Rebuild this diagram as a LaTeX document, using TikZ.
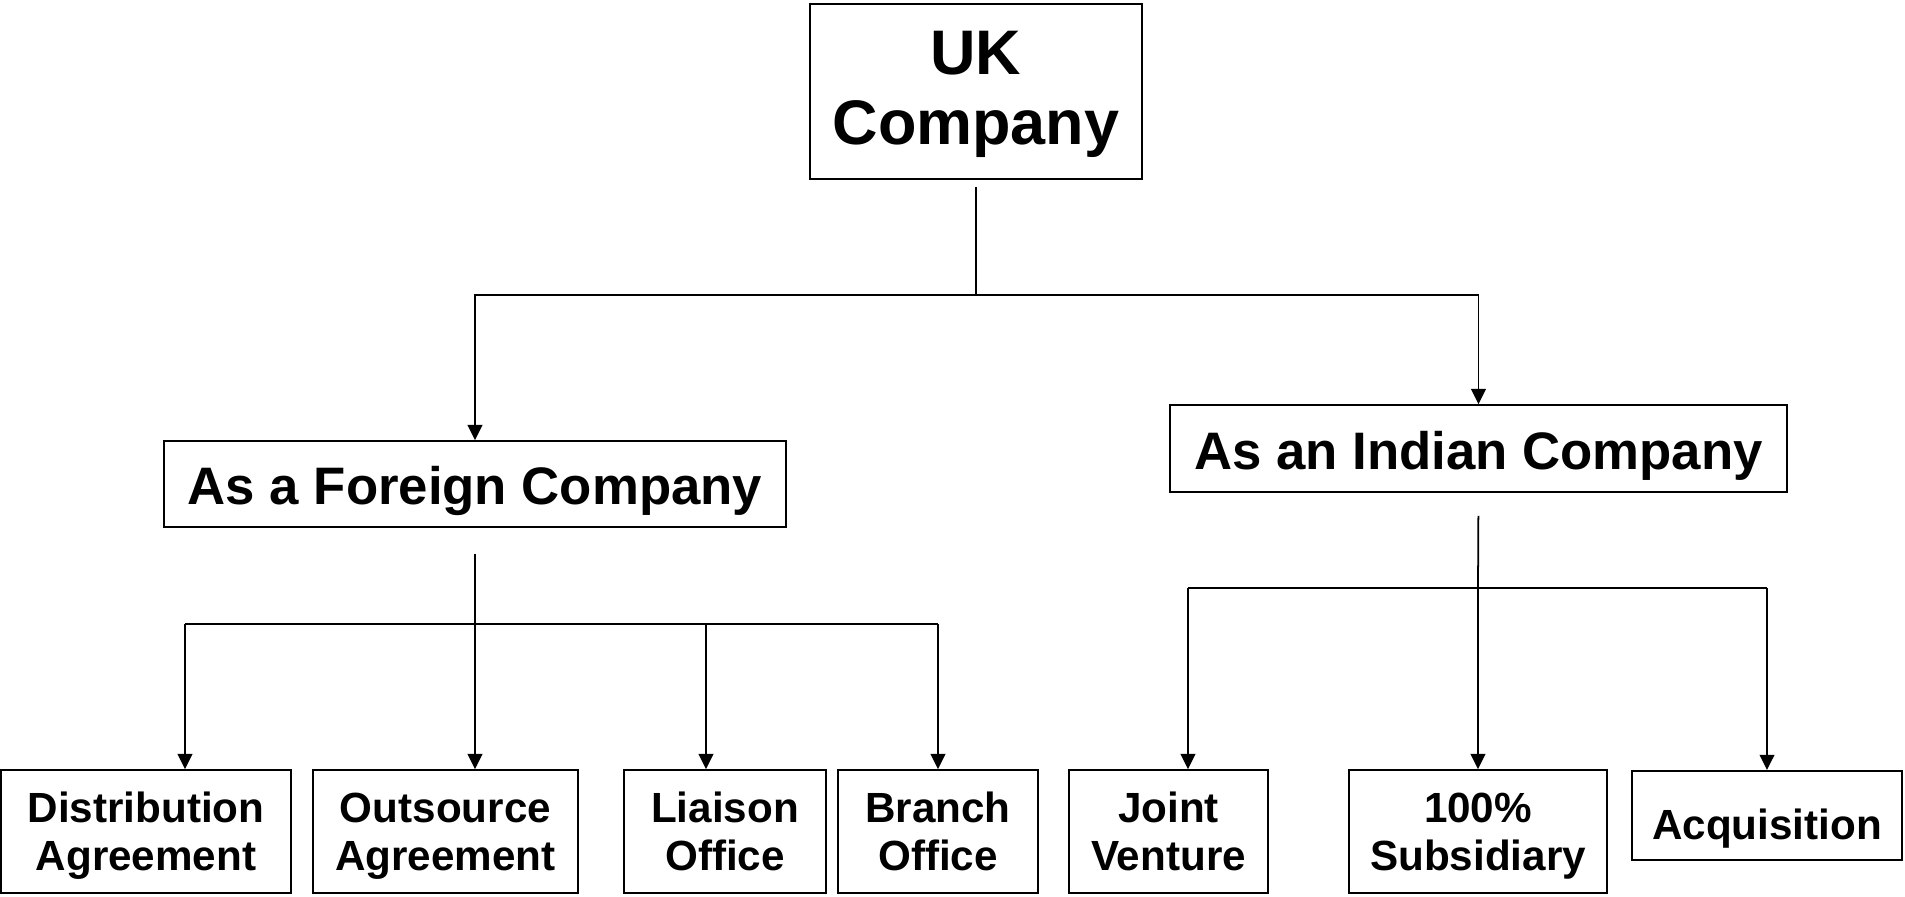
\documentclass[tikz,border=0pt]{standalone}
\usepackage{fontspec}
\setmainfont{Liberation Sans}
\usetikzlibrary{arrows.meta}

\tikzset{
  box/.style={draw, line width=0.5pt, inner sep=0pt, align=center, font=\bfseries},
  wire/.style={line width=0.5pt},
  drop/.style={line width=0.5pt, -{Triangle[length=4.3pt,width=4.2pt]}},
  bigtxt/.style={font=\bfseries\fontsize{17.9}{19.9}\selectfont, text depth=2.3pt},
  midtxt/.style={font=\bfseries\fontsize{15}{18}\selectfont, text height=11.7pt, text depth=0pt},
  smalltxt/.style={font=\bfseries\fontsize{12}{13.6}\selectfont, text depth=0pt}
}

\begin{document}
\begin{tikzpicture}[x=0.01cm,y=-0.01cm]
    \useasboundingbox (0,0) rectangle (1905,897);

    % top
    \node[box,bigtxt,minimum width=3.32cm,minimum height=1.75cm] (uk) at (976,91.5) {UK\\Company};

    % second row
    \node[box,midtxt,minimum width=6.22cm,minimum height=0.86cm] (foreign) at (475,484) {As a Foreign Company};
    \node[box,midtxt,minimum width=6.17cm,minimum height=0.87cm] (indian) at (1478.5,448.5) {As an Indian Company};

    % bottom row
    \node[box,smalltxt,minimum width=2.90cm,minimum height=1.23cm] (dist) at (146,831.5) {Distribution\\Agreement};
    \node[box,smalltxt,minimum width=2.65cm,minimum height=1.23cm] (outs) at (445.5,831.5) {Outsource\\Agreement};
    \node[box,smalltxt,minimum width=2.02cm,minimum height=1.23cm] (liai) at (725,831.5) {Liaison\\Office};
    \node[box,smalltxt,minimum width=2.00cm,minimum height=1.23cm] (bran) at (938,831.5) {Branch\\Office};
    \node[box,smalltxt,minimum width=1.99cm,minimum height=1.23cm] (joint) at (1168.5,831.5) {Joint\\Venture};
    \node[box,smalltxt,minimum width=2.58cm,minimum height=1.23cm] (subs) at (1478,831.5) {100\%\\Subsidiary};
    \node[box,smalltxt,text height=14pt,minimum width=2.70cm,minimum height=0.89cm] (acq) at (1767,815.3) {Acquisition};

    % uk -> second row
    \coordinate (ukj) at (976,295);
    \draw[wire,shorten <=0.07cm] (uk.south) -- (ukj);
    \draw[drop] (ukj) -| (foreign.north);
    \draw[drop] (ukj) -| (indian.north);

    % foreign branch
    \coordinate (fj) at (475,624);
    \coordinate (f1) at (185,624);
    \coordinate (f2) at (475,624);
    \coordinate (f3) at (706,624);
    \coordinate (f4) at (938,624);
    \draw[wire,shorten <=0.26cm] (foreign.south) -- (fj);
    \draw[wire] (f1) -- (f4);
    \foreach \f/\b in {f1/dist, f2/outs, f3/liai, f4/bran}
      \draw[drop] (\f) -- (\f |- \b.north);

    % indian branch
    \coordinate (ij) at (1478,588);
    \coordinate (i1) at (1188,588);
    \coordinate (i2) at (1478,588);
    \coordinate (i3) at (1767,588);
    \draw[wire,shorten <=0.23cm] (indian.south) -- (ij);
    \draw[wire] (i1) -- (i3);
    \foreach \i/\b in {i1/joint, i2/subs, i3/acq}
      \draw[drop] (\i) -- (\i |- \b.north);

\end{tikzpicture}
\end{document}
